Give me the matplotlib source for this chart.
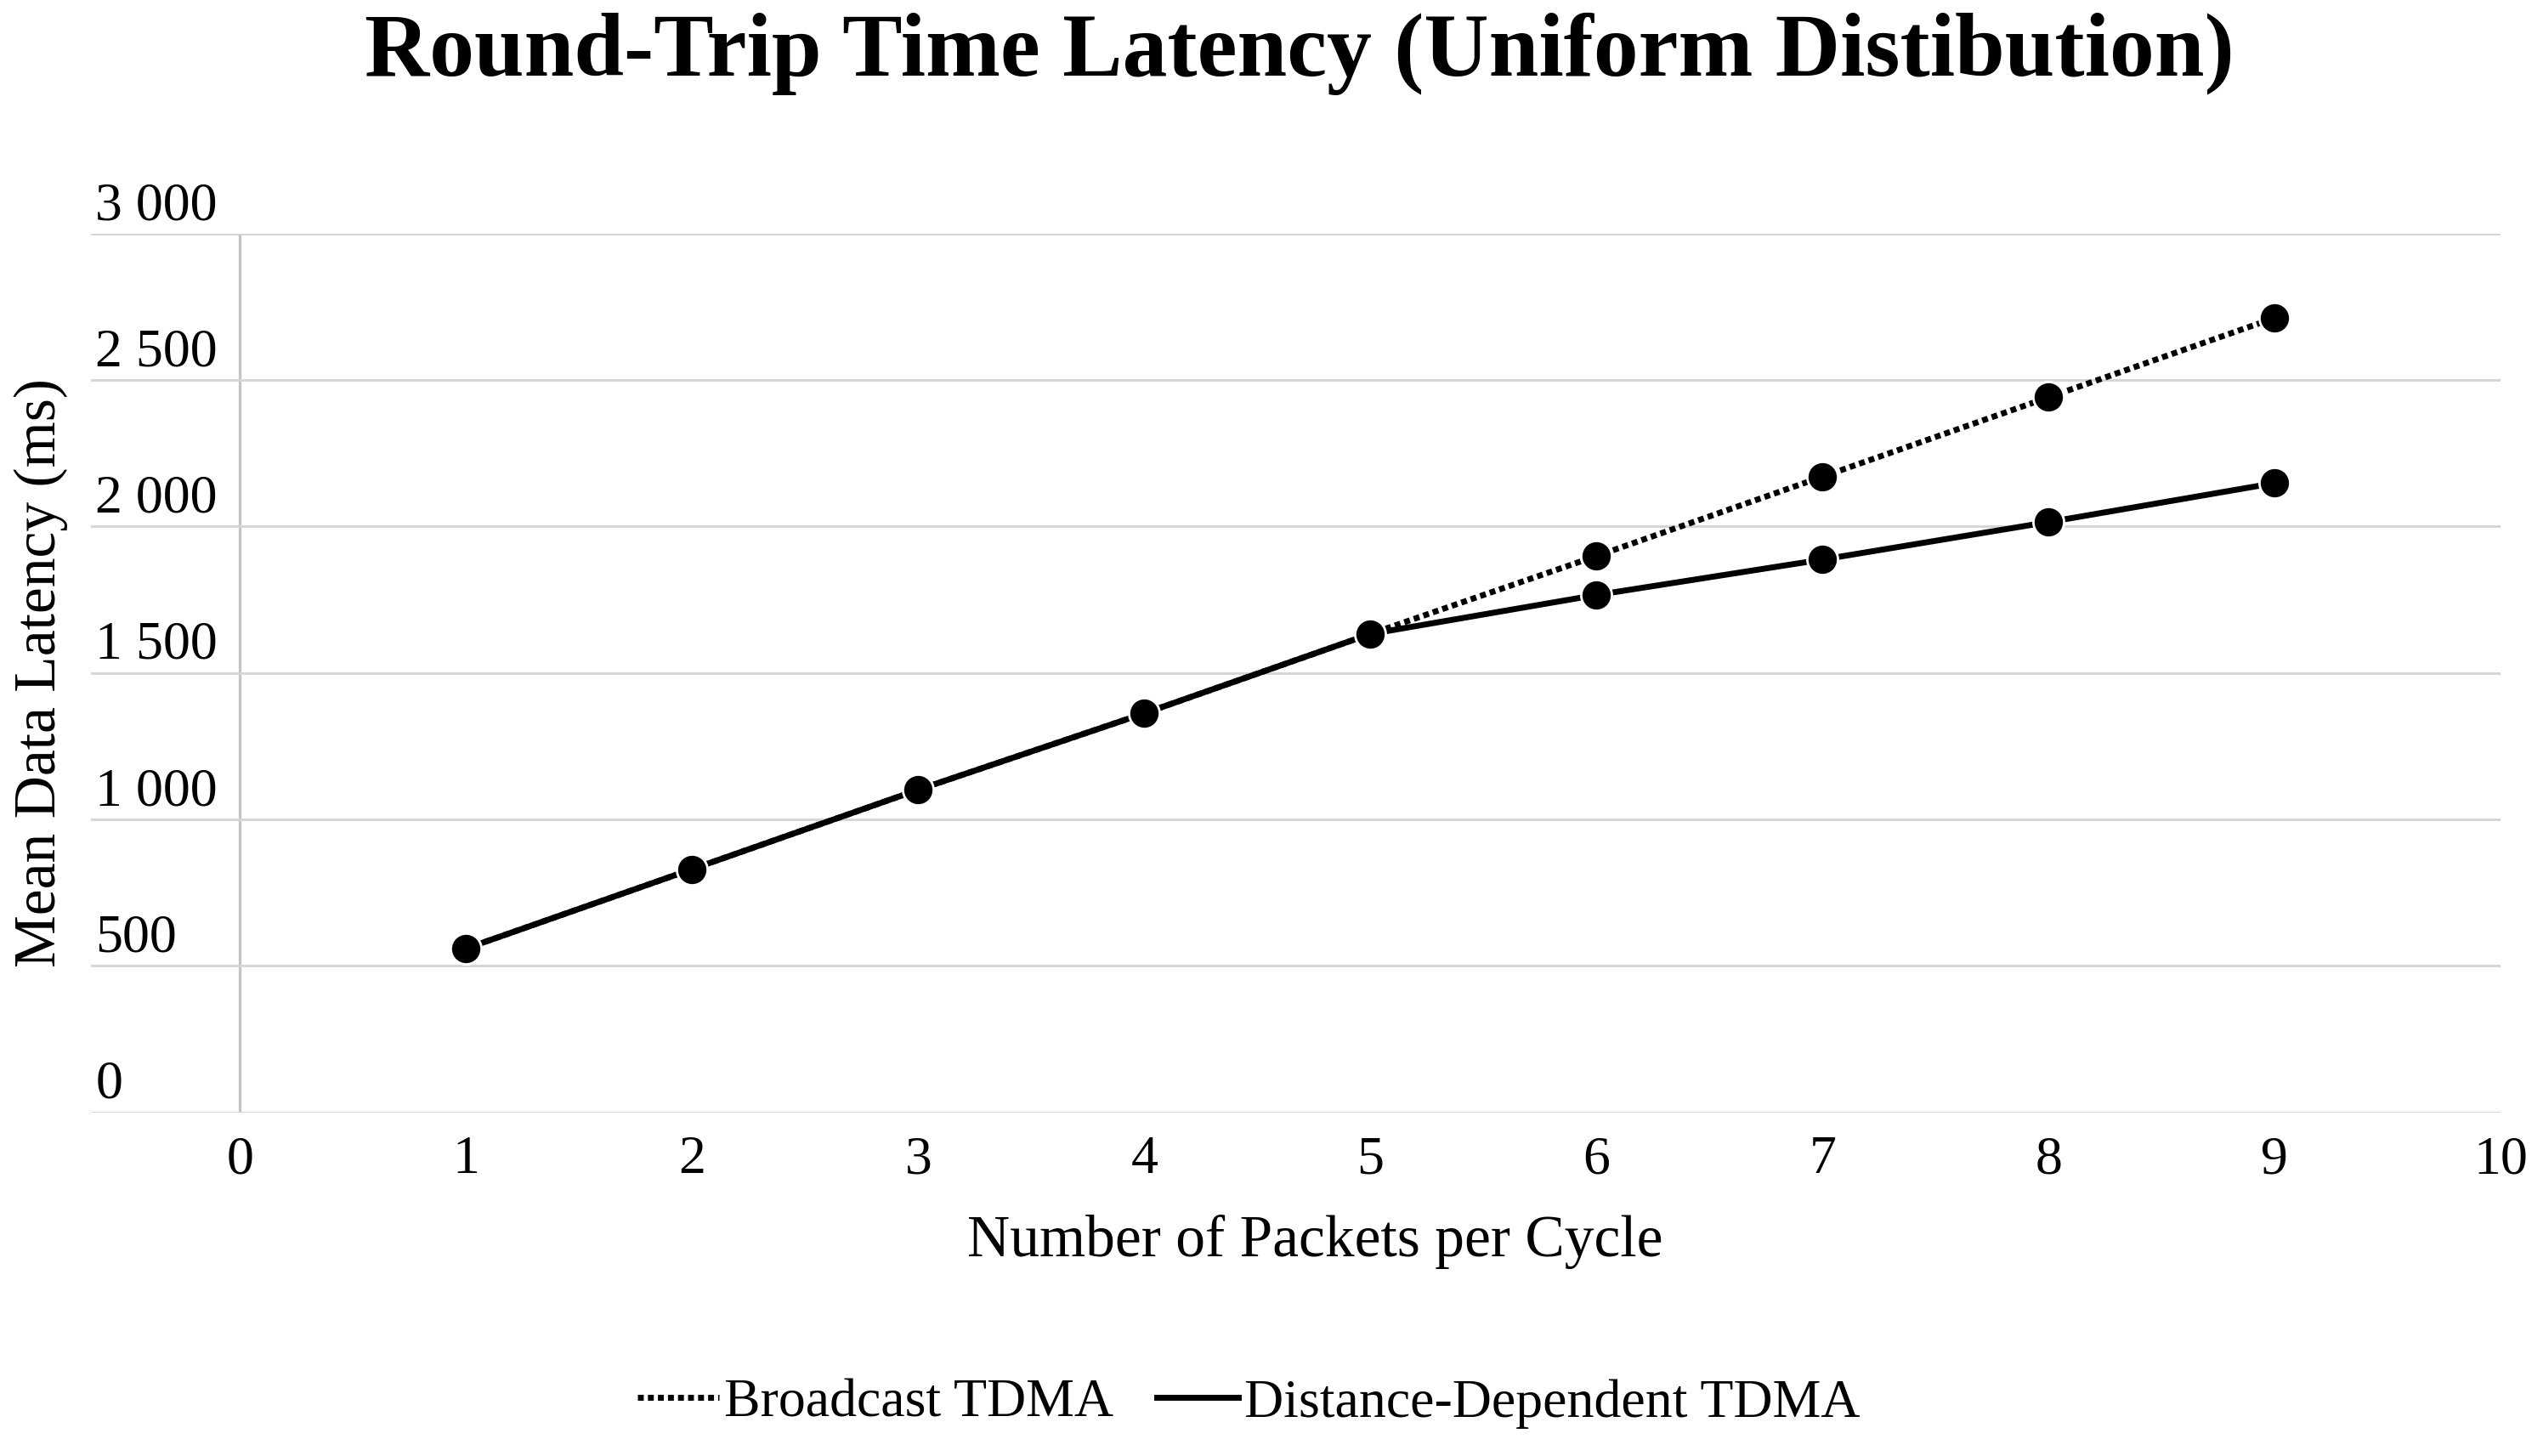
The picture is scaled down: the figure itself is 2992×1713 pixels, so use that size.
import matplotlib
matplotlib.use('Agg')
from matplotlib import pyplot as plt, rcParams
from matplotlib.lines import Line2D
from matplotlib.transforms import offset_copy

rcParams['font.family'] = ['Liberation Serif', 'DejaVu Serif']

# 数据
packets = [1, 2, 3, 4, 5, 6, 7, 8, 9]
broadcast = [559, 830, 1101, 1362, 1633, 1899, 2170, 2441, 2712]
distance = [559, 830, 1101, 1362, 1633, 1766, 1887, 2015, 2148]
y_ticks = [0, 500, 1000, 1500, 2000, 2500, 3000]
y_labels = ['0', '500', '1 000', '1 500', '2 000', '2 500', '3 000']
x_ticks = list(range(0, 11))

dot_style = (0, (1.0, 0.7))

fig = plt.figure(figsize=(14.96, 8.565), dpi=200)
ax = fig.add_axes([0.0357, 0.2361, 0.9477, 0.6035])

ax.plot(packets, broadcast, color='black', lw=2.5, ls=dot_style,
        marker='o', ms=13, mfc='black', mec='white', mew=1.0, zorder=3)
ax.plot(packets, distance, color='black', lw=2.5, ls='-',
        marker='o', ms=13, mfc='black', mec='white', mew=1.0, zorder=4)

ax.set_xlim(-0.66, 10)
ax.set_ylim(0, 3000)
for s in ax.spines.values():
    s.set_visible(False)

# 网格线
ax.set_yticks(y_ticks)
ax.yaxis.grid(True, color='#d4d4d4', lw=1.0)
ax.set_yticklabels([])
ax.tick_params(axis='y', length=0)
ax.axvline(0, color='#c4c4c4', lw=1.2, zorder=1)

# y轴刻度标签（放在网格线上方）
trans = offset_copy(ax.get_yaxis_transform(), fig=fig, x=2, y=6, units='points')
for v, lab in zip(y_ticks, y_labels):
    ax.text(0.0, v, lab, transform=trans, ha='left', va='baseline', fontsize=23)

ax.set_xticks(x_ticks)
ax.tick_params(axis='x', length=0, pad=10, labelsize=23)

fig.text(0.016, 0.538, 'Mean Data Latency (ms)', rotation=90, ha='center', va='center', fontsize=25)
fig.text(0.517, 0.147, 'Number of Packets per Cycle', ha='center', va='center', fontsize=25)
fig.text(0.511, 0.963, 'Round-Trip Time Latency (Uniform Distibution)', ha='center', va='center',
         fontsize=38, fontweight='bold')

handles = [Line2D([], [], color='black', lw=2.5, ls=dot_style),
           Line2D([], [], color='black', lw=2.5, ls='-')]
fig.legend(handles, ['Broadcast TDMA', 'Distance-Dependent TDMA'], loc='center',
           bbox_to_anchor=(0.491, 0.036), ncol=2, frameon=False, fontsize=23,
           handlelength=1.5, handletextpad=0.1, columnspacing=0.8)

fig.savefig('out.png', dpi=200, facecolor='white')
